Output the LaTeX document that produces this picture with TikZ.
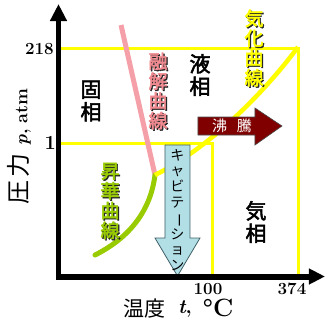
\documentclass[tikz,border=0pt]{standalone}
\usepackage{fontspec}
\newfontfamily\jp{Noto Sans CJK JP}
\newfontfamily\jpb[FakeBold=2.5]{Noto Sans CJK JP}
\usetikzlibrary{arrows.meta}
\definecolor{yel}{HTML}{FFFF00}
\definecolor{pinkc}{HTML}{F5A0A8}
\definecolor{pinkt}{HTML}{F08A90}
\definecolor{grn}{HTML}{99CC00}
\definecolor{darkred}{HTML}{800000}
\definecolor{lblue}{HTML}{B2DFE6}
\definecolor{bluedge}{HTML}{3F5F66}
\tikzset{
  axisline/.style={line width=6pt, line join=miter, {Triangle[length=17pt,width=16pt]}-{Triangle[length=16pt,width=15pt]}},
  yline/.style={yel, line width=3pt},
  phase/.style={font=\jpb\fontsize{21}{22.5}\selectfont, align=center, inner sep=0pt},
  curvelbl/.style={font=\jpb\fontsize{19}{19.8}\selectfont, align=center, inner sep=0pt},
  num/.style={font=\bfseries\fontsize{17}{17}\selectfont, inner sep=0pt},
}
\begin{document}
\begin{tikzpicture}[x=1pt,y=-1pt]
\useasboundingbox (0,0) rectangle (325,322);
% named coordinates
\coordinate (o) at (58.5,276.5);
\coordinate (ytip) at (58.5,4);
\coordinate (xtip) at (325,276.5);
\coordinate (p218l) at (58,48);
\coordinate (p218r) at (298.5,48);
\coordinate (t374) at (298.5,276);
\coordinate (p1l) at (58,143);
\coordinate (p1r) at (213,143);
\coordinate (t100) at (213,276);
\coordinate (triple) at (155,175);
\coordinate (mtop) at (121,25);
\coordinate (subl) at (95,255);
\coordinate (crit) at (298,47);
% yellow guide lines
\draw[yline] (p218l) -- (p218r) -- (t374);
\draw[yline] (p1l) -- (p1r) -- (t100);
% curves
\draw[pinkc, line width=5pt] (mtop) -- (triple);
\draw[grn, line width=5pt, line cap=round] (subl) .. controls (125,240) and (150,215) .. (triple);
\draw[yel, line width=4.5pt] (triple) .. controls (215,145) and (270,85) .. (crit);
% phase labels
\node[phase] (solid) at (91,101) {固\\相};
\node[phase] (liquid) at (200,75) {液\\相};
\node[phase] (gas) at (256,222) {気\\相};
% curve labels with shadow
\node[curvelbl, black!85] at (159.2,92.2) {融\\解\\曲\\線};
\node[curvelbl, pinkt] (melt) at (158,91) {融\\解\\曲\\線};
\node[curvelbl, black!85] at (255.2,49.2) {気\\化\\曲\\線};
\node[curvelbl, yel] (vap) at (254,48) {気\\化\\曲\\線};
\node[curvelbl, black!85] at (111.2,202.2) {昇\\華\\曲\\線};
\node[curvelbl, grn] (sub) at (110,201) {昇\\華\\曲\\線};
% boiling arrow
\draw[fill=darkred, draw=black!70, line width=0.6pt] (198,117) -- (255,117) -- (255,108) -- (282,126) -- (255,145) -- (255,135) -- (198,135) -- cycle;
\node[font=\jp\fontsize{15}{15}\selectfont, text=white, inner sep=0pt] (boil) at (232,126) {沸\hspace{10pt}騰};
% cavitation arrow
\draw[fill=lblue, draw=bluedge, line width=0.8pt] (165,145) -- (190,145) -- (190,238) -- (200,238) -- (177.5,276) -- (155,238) -- (165,238) -- cycle;
\node[font=\jp\fontsize{14}{15.8}\selectfont, align=center, inner sep=0pt] (cav) at (177.5,210) {キ\\ャ\\ビ\\テ\\\rotatebox[origin=c]{-90}{ー}\\シ\\ョ\\ン};
% axes
\draw[axisline] (ytip) -- (o) -- (xtip);
% tick labels
\node[num, anchor=east] (l218) at (54,49) {218};
\node[num, font=\bfseries\fontsize{20}{20}\selectfont, anchor=east] (l1) at (56,143) {1};
\node[num] (l100) at (208,289) {100};
\node[num] (l374) at (292,289) {374};
% axis titles
\node[rotate=90, inner sep=0pt] (ylab) at (19,146.5) {{\jp\fontsize{24}{24}\selectfont 圧\kern3pt 力}\hspace{8pt}{\bfseries\fontsize{18}{18}\selectfont\textit{p},\hspace{6pt}atm}};
\node[font=\jp\fontsize{21}{21}\selectfont, inner sep=0pt] (xlab) at (145,309) {温度};
\node[font=\bfseries\fontsize{20}{20}\selectfont, inner sep=0pt] (tlab) at (185,309) {\textit{t},};
\node[font=\bfseries\fontsize{25}{25}\selectfont, inner sep=0pt] (clab) at (218,308) {°C};
\end{tikzpicture}
\end{document}
